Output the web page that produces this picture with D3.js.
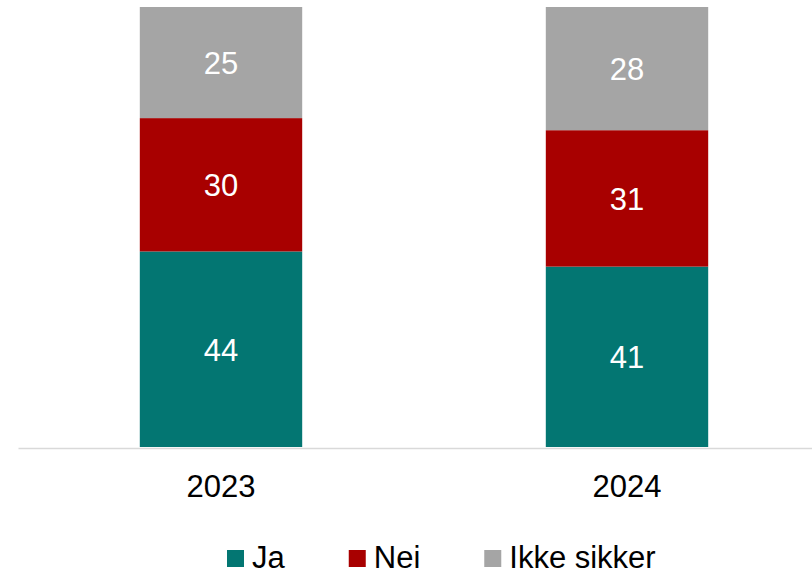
<!DOCTYPE html>
<html>
<head>
<meta charset="utf-8">
<script src="https://cdn.jsdelivr.net/npm/d3@7"></script>
<style>
  html, body { margin: 0; padding: 0; background: #fff; }
  svg { display: block; font-family: "Liberation Sans", Arial, sans-serif; }
</style>
</head>
<body>
<svg id="chart" width="812" height="574"></svg>
<script>
const categories = ["2023", "2024"];
const seriesNames = ["Ja", "Nei", "Ikke sikker"];
const ja = [44, 41];
const nei = [30, 31];
const ikkeSikker = [25, 28];
const colors = ["#037672", "#A80000", "#A5A5A5"];

const rows = categories.map((c, i) => ({
  cat: c, "Ja": ja[i], "Nei": nei[i], "Ikke sikker": ikkeSikker[i]
}));

const svg = d3.select("#chart");

const x = d3.scaleBand().domain(categories).range([18, 830])
  .paddingInner(0.6).paddingOuter(0.3);
const y = d3.scaleLinear().domain([0, 1]).range([447, 7]);
const color = d3.scaleOrdinal().domain(seriesNames).range(colors);

const stack = d3.stack().keys(seriesNames).offset(d3.stackOffsetExpand);
const stacked = stack(rows);

const g = svg.append("g");
const layers = g.selectAll("g.layer").data(stacked).join("g")
  .attr("class", "layer").attr("fill", d => color(d.key));

layers.selectAll("rect").data(d => d).join("rect")
  .attr("x", d => x(d.data.cat))
  .attr("width", x.bandwidth())
  .attr("y", d => y(d[1]))
  .attr("height", d => y(d[0]) - y(d[1]));

stacked.forEach(layer => {
  g.selectAll(null).data(layer).join("text")
    .attr("x", d => x(d.data.cat) + x.bandwidth() / 2)
    .attr("y", d => (y(d[0]) + y(d[1])) / 2 + 11.5)
    .attr("text-anchor", "middle")
    .attr("fill", "#fff")
    .attr("font-size", 31)
    .text(d => d.data[layer.key]);
});

// x axis
const axis = svg.append("g").attr("transform", "translate(0,448)")
  .call(d3.axisBottom(x).tickSize(0).tickPadding(0));
axis.select(".domain").attr("stroke", "#d9d9d9").attr("stroke-width", 1.5);
axis.selectAll(".tick text")
  .attr("font-size", 31)
  .attr("font-family", "Liberation Sans, Arial, sans-serif")
  .attr("fill", "#000")
  .attr("dy", null)
  .attr("y", 49);

// legend
const legend = svg.append("g").attr("transform", "translate(227,0)");
let cx = 0;
seriesNames.forEach((name) => {
  const it = legend.append("g").attr("transform", `translate(${cx},0)`);
  it.append("rect").attr("x", 0).attr("y", 550).attr("width", 17).attr("height", 17)
    .attr("fill", color(name));
  const t = it.append("text").attr("x", 25).attr("y", 567.5)
    .attr("font-size", 31).attr("fill", "#000").text(name);
  const w = t.node().getComputedTextLength();
  cx += 25 + w + 64;
});
</script>
</body>
</html>
